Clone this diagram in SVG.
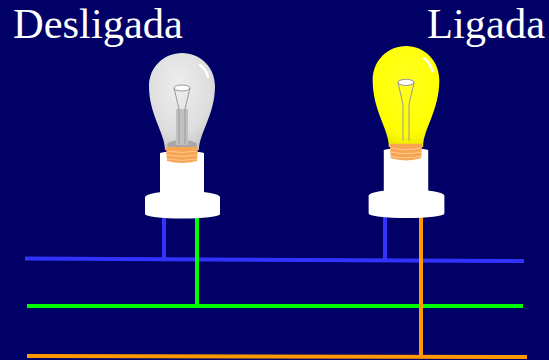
<svg xmlns="http://www.w3.org/2000/svg" width="549" height="360" viewBox="0 0 549 360">
<style>
.lbl{font-family:"Liberation Serif","Times New Roman",serif;font-size:42.5px;fill:#ffffff}
.w{fill:none;stroke-linecap:butt}
.blue{stroke:#3333ff;stroke-width:4}
.green{stroke:#00ff00;stroke-width:4}
.orange{stroke:#ff9900;stroke-width:4}
.sock{fill:#ffffff}
.fil{fill:none;stroke:#999999;stroke-width:1}
.hl{fill:none;stroke:#ffffff;stroke-width:2.5;stroke-linecap:round}
</style>
<defs>
<radialGradient id="gOff" cx="0.45" cy="0.35" r="0.7">
<stop offset="0" stop-color="#eeeeee"/>
<stop offset="0.7" stop-color="#dddddd"/>
<stop offset="1" stop-color="#c4c4c4"/>
</radialGradient>
<radialGradient id="gOn" cx="0.5" cy="0.35" r="0.7">
<stop offset="0" stop-color="#ffff20"/>
<stop offset="0.75" stop-color="#ffff00"/>
<stop offset="1" stop-color="#e8e000"/>
</radialGradient>
<path id="glass" d="M -17,97 C -17,80 -33,62 -33,33 C -33,14 -18,0 0,0 C 18,0 33,14 33,33 C 33,62 17,80 17,97 Z"/>
<g id="screw">
<path d="M -16,94 L 16,94 L 15,108 Q 0,112 -15,108 Z" fill="#f7a552"/>
<path d="M -15,98 Q 0,101 15,98 M -15,102 Q 0,105 15,102 M -15,106 Q 0,109 15,106" fill="none" stroke="#ffc890" stroke-width="1"/>
</g>
<g id="filament">
<ellipse cx="0" cy="35" rx="8" ry="3" fill="#ffffff" stroke="#999999" stroke-width="1"/>
<path class="fil" d="M -8,35 L -3,56 M 8,35 L 3,56 M -3,56 L -3,91 M 3,56 L 3,91"/>
</g>
<g id="socket">
<rect x="-37" y="144" width="75" height="17" class="sock"/>
<ellipse cx="0.5" cy="144" rx="37.5" ry="6" class="sock"/>
<ellipse cx="0.5" cy="161" rx="37.5" ry="4.5" class="sock"/>
<rect x="-22" y="100" width="44" height="44" class="sock"/>
<ellipse cx="0" cy="100.5" rx="22" ry="2.5" class="sock"/>
</g>
</defs>
<rect width="549" height="360" fill="#000066"/>
<text class="lbl" x="13" y="38">Desligada</text>
<text class="lbl" x="427" y="38">Ligada</text>
<g id="connectors">
<line class="w blue" x1="25" y1="258.5" x2="524" y2="261"/>
<line class="w blue" x1="164" y1="215" x2="164" y2="259"/>
<line class="w blue" x1="385" y1="213" x2="385" y2="260"/>
<line class="w green" x1="27" y1="306" x2="523" y2="306"/>
<line class="w green" x1="197" y1="215" x2="197" y2="306"/>
<line class="w orange" x1="27" y1="356" x2="527" y2="357" stroke-width="5"/>
<line class="w orange" x1="421" y1="213" x2="421" y2="357"/>
</g>
<g id="lamp-off" transform="translate(182,53)">
<use href="#socket"/>
<use href="#glass" fill="url(#gOff)"/>
<ellipse cx="0" cy="92" rx="15" ry="5" fill="#a8a8a8"/>
<rect x="-6" y="56" width="12" height="36" fill="#c0c0c0"/>
<use href="#filament"/>
<path class="hl" d="M 18,12 Q 24,16 26,24"/>
<use href="#screw"/>
</g>
<g id="lamp-on" transform="translate(406,46) scale(1.01,1.04)">
<use href="#socket"/>
<use href="#glass" fill="url(#gOn)"/>
<use href="#filament"/>
<path class="hl" d="M 18,12 Q 24,16 26,24"/>
<use href="#screw"/>
</g>
</svg>
